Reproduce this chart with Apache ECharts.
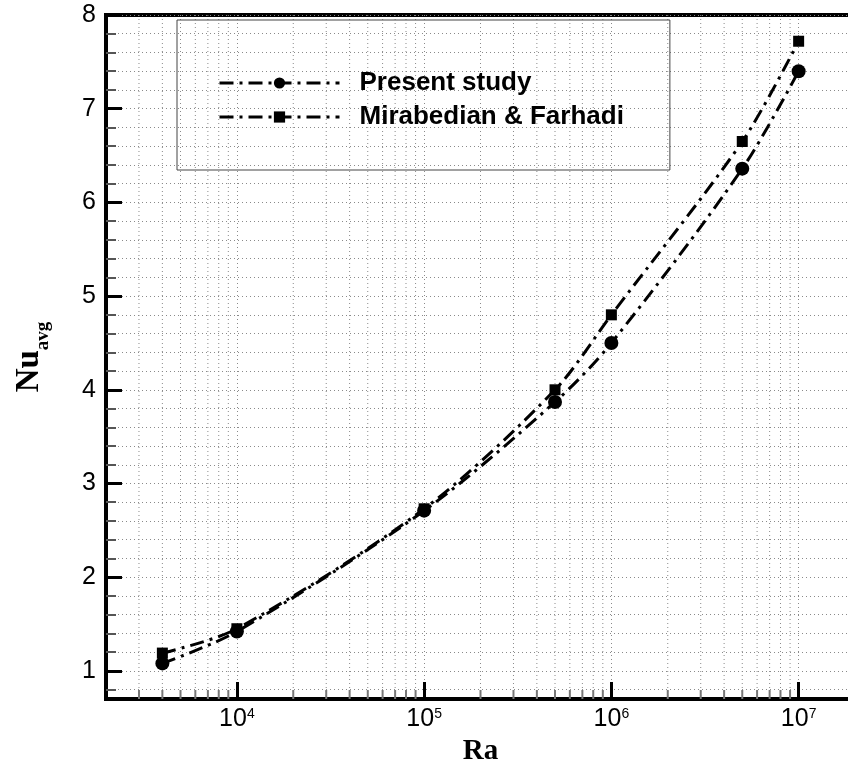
<!DOCTYPE html>
<html><head><meta charset="utf-8">
<script src="https://cdn.jsdelivr.net/npm/echarts@6/dist/echarts.min.js"></script>
<style>html,body{margin:0;padding:0;background:#fff}#c{width:848px;height:765px}</style>
</head><body><div id="c"></div>
<script>
// ---- data ----
const raValues = [4000, 10000, 100000, 500000, 1000000, 5000000, 10000000];
const presentStudy = [1.08, 1.42, 2.71, 3.87, 4.50, 6.36, 7.40];
const mirabedianFarhadi = [1.19, 1.45, 2.73, 4.00, 4.80, 6.65, 7.72];
const seriesNames = ['Present study', 'Mirabedian & Farhadi'];
// minor log-decade positions (2..9 x 10^n)
const minorRa = [3000, 4000, 5000, 6000, 7000, 8000, 9000,
  20000, 30000, 40000, 50000, 60000, 70000, 80000, 90000,
  200000, 300000, 400000, 500000, 600000, 700000, 800000, 900000,
  2000000, 3000000, 4000000, 5000000, 6000000, 7000000, 8000000, 9000000];
const xMin = 2000, xMax = 20000000, yMin = 0.7, yMax = 8;

const sans = "'Liberation Sans', Arial, sans-serif";
const serif = "'Liberation Serif', 'Times New Roman', serif";
const gridDot = { color: '#8a8a8a', width: 1, type: [1, 3] };
const dashDot = [14, 6, 3, 6];

const chart = echarts.init(document.getElementById('c'), null, { renderer: 'canvas' });
chart.setOption({
  backgroundColor: '#fff',
  animation: false,
  grid: { left: 106, top: 15, right: -7, bottom: 66, show: true, borderColor: '#000', borderWidth: 4, outerBoundsMode: 'none', containLabel: false },
  legend: {
    data: seriesNames, orient: 'vertical', left: 177, top: 20,
    padding: [50, 46, 40, 41], itemWidth: 120, itemHeight: 14, itemGap: 8,
    borderColor: '#444', borderWidth: 1, selectedMode: false,
    lineStyle: { width: 3 },
    textStyle: { fontFamily: sans, fontWeight: 'bold', fontSize: 26, color: '#000', padding: [0, 0, 0, 15] }
  },
  xAxis: {
    type: 'log', logBase: 10, min: xMin, max: xMax,
    name: 'Ra', nameLocation: 'middle', nameGap: 34,
    nameTextStyle: { fontFamily: serif, fontWeight: 'bold', fontSize: 29, color: '#000' },
    axisLine: { show: true, lineStyle: { color: '#000', width: 4 } },
    axisTick: { show: true, inside: true, length: 17, lineStyle: { color: '#000', width: 3 } },
    axisLabel: {
      showMinLabel: false, showMaxLabel: false, margin: 8,
      formatter: v => '{b|10}{s|' + Math.round(Math.log10(v)) + '}',
      rich: {
        b: { fontFamily: sans, fontSize: 25, color: '#000' },
        s: { fontFamily: sans, fontSize: 14, color: '#000', verticalAlign: 'top' }
      }
    },
    splitLine: { show: true, lineStyle: gridDot }
  },
  yAxis: {
    type: 'value', min: yMin, max: yMax, splitNumber: 7,
    name: '{n|Nu}{s|avg}', nameLocation: 'middle', nameGap: 60, nameRotate: 90,
    nameTextStyle: {
      rich: {
        n: { fontFamily: serif, fontWeight: 'bold', fontSize: 33, lineHeight: 33, color: '#000', verticalAlign: 'top' },
        s: { fontFamily: serif, fontWeight: 'bold', fontSize: 19, lineHeight: 19, color: '#000', verticalAlign: 'top', padding: [21, 0, 0, 0] }
      }
    },
    axisLine: { show: true, lineStyle: { color: '#000', width: 4 } },
    axisTick: { show: true, inside: true, length: 16, lineStyle: { color: '#000', width: 3 } },
    minorTick: { show: true, splitNumber: 5, length: 10, lineStyle: { color: '#555', width: 2 } },
    axisLabel: { showMinLabel: false, margin: 10, fontFamily: sans, fontSize: 25, color: '#000',
      formatter: v => String(Math.round(v)) },
    splitLine: { show: true, lineStyle: gridDot },
    minorSplitLine: { show: true, lineStyle: gridDot }
  },
  series: [
    {
      type: 'custom', name: 'minorGrid', silent: true, z: 1,
      data: minorRa.map(r => [r, yMin]),
      encode: { x: 0, y: 1 },
      renderItem: (params, api) => {
        const cs = params.coordSys;
        const x = api.coord([api.value(0), yMin])[0];
        return { type: 'group', children: [
          { type: 'line', shape: { x1: x, y1: cs.y, x2: x, y2: cs.y + cs.height }, style: { stroke: '#8a8a8a', lineWidth: 1, lineDash: [1, 3] } },
          { type: 'line', shape: { x1: x, y1: cs.y + cs.height, x2: x, y2: cs.y + cs.height - 9 }, style: { stroke: '#777', lineWidth: 2 } }
        ] };
      }
    },
    {
      name: seriesNames[0], type: 'line', z: 5, smooth: 0.3,
      data: raValues.map((r, i) => [r, presentStudy[i]]),
      symbol: 'circle', symbolSize: 14, showAllSymbol: true,
      lineStyle: { color: '#000', width: 3, type: dashDot },
      itemStyle: { color: '#000' }
    },
    {
      name: seriesNames[1], type: 'line', z: 5, smooth: 0.3,
      data: raValues.map((r, i) => [r, mirabedianFarhadi[i]]),
      symbol: 'rect', symbolSize: 11, showAllSymbol: true,
      lineStyle: { color: '#000', width: 3, type: dashDot },
      itemStyle: { color: '#000' }
    }
  ]
});
</script>
</body></html>
